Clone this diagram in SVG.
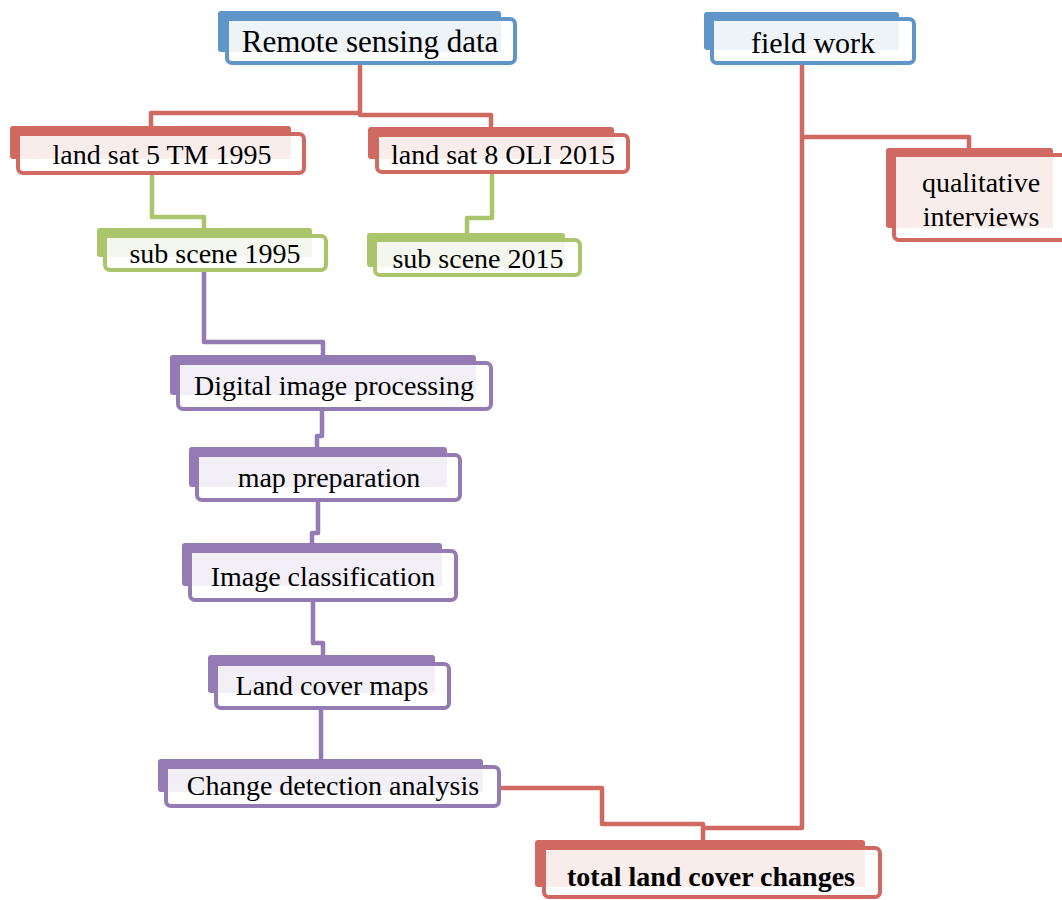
<svg xmlns="http://www.w3.org/2000/svg" width="1062" height="900" viewBox="0 0 1062 900">
<style>
text{font-family:"Liberation Serif","Times New Roman",serif;font-size:28px;fill:#000;text-anchor:middle}
.b{fill:#5F95C9}.r{fill:#CF6961}.g{fill:#AAC56B}.p{fill:#957BB3}
.fb{fill:#fff;stroke:#5F95C9;stroke-width:4}
.fr{fill:#fff;stroke:#CF6961;stroke-width:4}
.fg{fill:#fff;stroke:#AAC56B;stroke-width:4}
.fp{fill:#fff;stroke:#957BB3;stroke-width:4}
.tb{fill:#EEF3F8}.tr{fill:#F9EDEC}.tg{fill:#F4F7EE}.tp{fill:#F2F0F6}
.c{fill:none;stroke-width:4.5;stroke-linejoin:round}
.cr{stroke:#CF6961}.cg{stroke:#AAC56B}.cp{stroke:#957BB3}
</style>
<g id="connectors">
<path class="c cr" d="M151,126 V113 H360 V65 M360,113 V115 H491 V127"/>
<path class="c cg" d="M152,175 V217 H204 V228"/>
<path class="c cg" d="M492,174 V218 H467 V233"/>
<path class="c cp" d="M204,272 V342 H323 V355"/>
<path class="c cp" d="M322,411 V436 H317 V447"/>
<path class="c cp" d="M318,502 V533 H312 V543"/>
<path class="c cp" d="M313,602 V643 H323 V655"/>
<path class="c cp" d="M321,710 V759"/>
<path class="c cr" d="M501,788 H602 V824 H703 V840"/>
<path class="c cr" d="M802,65 V828 H703"/>
<path class="c cr" d="M802,137 H969 V148"/>
</g>
<g id="remote">
<rect class="b" x="218" y="11" width="283" height="41" rx="3"/>
<rect class="fb" x="227" y="19" width="288" height="44" rx="5"/>
<rect class="tb" x="229" y="21" width="272" height="31"/>
<text x="370" y="52" style="font-size:31px">Remote sensing data</text>
</g>
<g id="fieldwork">
<rect class="b" x="704" y="12" width="195" height="38" rx="3"/>
<rect class="fb" x="712" y="19" width="202" height="44" rx="5"/>
<rect class="tb" x="714" y="21" width="185" height="29"/>
<text x="813" y="53" style="font-size:30px">field work</text>
</g>
<g id="landsat5">
<rect class="r" x="10" y="126" width="281" height="33" rx="3"/>
<rect class="fr" x="18" y="134" width="286" height="39" rx="5"/>
<rect class="tr" x="20" y="136" width="271" height="23"/>
<text x="162" y="164">land sat 5 TM 1995</text>
</g>
<g id="landsat8">
<rect class="r" x="368" y="127" width="246" height="32" rx="3"/>
<rect class="fr" x="377" y="135" width="251" height="37" rx="5"/>
<rect class="tr" x="379" y="137" width="235" height="22"/>
<text x="503" y="164">land sat 8 OLI 2015</text>
</g>
<g id="subscene1995">
<rect class="g" x="97" y="228" width="215" height="29" rx="3"/>
<rect class="fg" x="105" y="236" width="221" height="34" rx="5"/>
<rect class="tg" x="107" y="238" width="205" height="19"/>
<text x="215" y="263">sub scene 1995</text>
</g>
<g id="subscene2015">
<rect class="g" x="367" y="233" width="198" height="34" rx="3"/>
<rect class="fg" x="375" y="240" width="205" height="35" rx="5"/>
<rect class="tg" x="377" y="242" width="188" height="25"/>
<text x="478" y="268">sub scene 2015</text>
</g>
<g id="qualitative">
<rect class="r" x="886" y="148" width="167" height="80" rx="3"/>
<rect class="fr" x="894" y="155" width="172" height="85" rx="5"/>
<rect class="tr" x="896" y="157" width="157" height="71"/>
<text x="981" y="192">qualitative</text>
<text x="981" y="226">interviews</text>
</g>
<g id="digital">
<rect class="p" x="170" y="355" width="306" height="40" rx="3"/>
<rect class="fp" x="178" y="363" width="313" height="46" rx="5"/>
<rect class="tp" x="180" y="365" width="296" height="30"/>
<text x="334" y="395">Digital image processing</text>
</g>
<g id="mapprep">
<rect class="p" x="189" y="447" width="258" height="40" rx="3"/>
<rect class="fp" x="197" y="455" width="263" height="45" rx="5"/>
<rect class="tp" x="199" y="457" width="248" height="30"/>
<text x="329" y="487">map preparation</text>
</g>
<g id="imageclass">
<rect class="p" x="182" y="543" width="260" height="43" rx="3"/>
<rect class="fp" x="190" y="551" width="266" height="49" rx="5"/>
<rect class="tp" x="192" y="553" width="250" height="33"/>
<text x="323" y="586">Image classification</text>
</g>
<g id="landcover">
<rect class="p" x="208" y="655" width="227" height="38" rx="3"/>
<rect class="fp" x="216" y="664" width="233" height="44" rx="5"/>
<rect class="tp" x="218" y="666" width="217" height="27"/>
<text x="332" y="695">Land cover maps</text>
</g>
<g id="change">
<rect class="p" x="158" y="759" width="325" height="33" rx="3"/>
<rect class="fp" x="166" y="767" width="333" height="39" rx="5"/>
<rect class="tp" x="168" y="769" width="315" height="23"/>
<text x="333" y="795">Change detection analysis</text>
</g>
<g id="total">
<rect class="r" x="535" y="840" width="330" height="47" rx="3"/>
<rect class="fr" x="544" y="848" width="336" height="49" rx="5"/>
<rect class="tr" x="546" y="850" width="319" height="37"/>
<text x="711" y="886" style="font-weight:bold">total land cover changes</text>
</g>
</svg>
